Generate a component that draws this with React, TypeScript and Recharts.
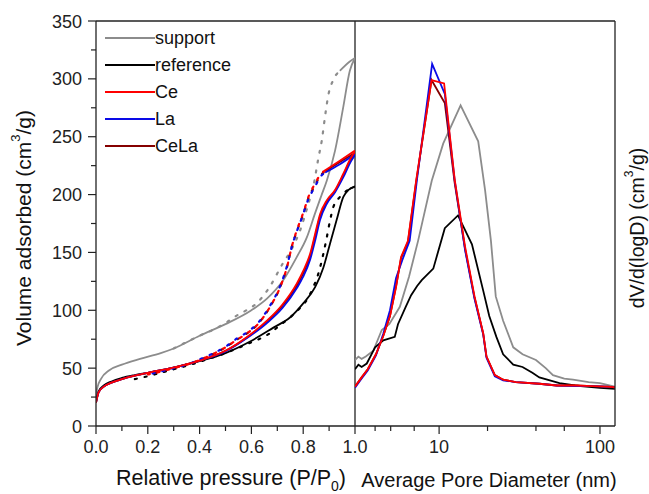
import { LineChart, Line, XAxis, YAxis, Legend, ReferenceLine } from 'recharts';

// N2 physisorption isotherms: [P/P0, volume adsorbed cm3/g]
const supportAds = [
  [0, 25], [0.005, 33], [0.02, 41], [0.05, 48], [0.1, 53], [0.17, 58], [0.25, 63], [0.3, 67],
  [0.4, 78], [0.5, 88], [0.6, 100], [0.66, 110], [0.72, 125], [0.775, 146], [0.814, 163],
  [0.846, 184], [0.87, 199], [0.891, 212], [0.923, 238], [0.955, 276], [0.98, 307], [1.0, 318],
];
const supportDes = [
  [0.3, 67], [0.4, 78], [0.45, 83], [0.5, 89], [0.54, 95], [0.58, 100], [0.62, 106], [0.67, 120],
  [0.72, 140], [0.756, 153], [0.788, 169], [0.82, 192], [0.839, 207], [0.859, 232], [0.872, 247],
  [0.884, 267], [0.897, 286], [0.916, 299], [0.942, 307], [0.98, 315], [1.0, 318],
];
const referenceAds = [
  [0, 21], [0.01, 30], [0.03, 35], [0.06, 38.5], [0.1, 41.5], [0.15, 44], [0.2, 46], [0.3, 50.5],
  [0.4, 56], [0.5, 63], [0.595, 73], [0.685, 85], [0.75, 94], [0.8, 106], [0.846, 120],
  [0.878, 137], [0.904, 158], [0.929, 178], [0.955, 198], [0.975, 204], [1.0, 207],
];
const referenceDes = [
  [0.15, 40.5], [0.2, 43], [0.25, 46], [0.3, 49], [0.35, 52], [0.42, 57], [0.5, 63], [0.58, 70.5],
  [0.67, 80], [0.71, 87], [0.75, 94], [0.788, 102], [0.814, 109], [0.839, 120], [0.859, 132],
  [0.878, 149], [0.891, 163], [0.904, 178], [0.916, 189], [0.942, 198], [0.98, 205], [1.0, 207],
];
const ceAds = [
  [0, 20], [0.01, 29], [0.03, 34], [0.06, 37.5], [0.1, 40.5], [0.15, 43.5], [0.2, 46], [0.29, 50],
  [0.4, 56.5], [0.5, 65], [0.583, 77], [0.66, 91], [0.72, 105], [0.775, 123], [0.8, 134],
  [0.827, 149], [0.846, 166], [0.865, 183], [0.891, 195], [0.923, 204], [0.955, 218], [0.985, 232],
  [1.0, 237],
];
const ceDes = [
  [0.2, 44.5], [0.25, 47], [0.3, 50], [0.35, 53], [0.4, 57], [0.45, 62], [0.5, 68], [0.54, 74],
  [0.583, 80], [0.627, 88.5], [0.672, 103], [0.711, 120], [0.737, 137], [0.756, 155], [0.775, 169],
  [0.795, 181], [0.807, 189], [0.82, 198], [0.846, 209.5], [0.865, 217], [0.885, 221], [0.94, 229],
  [1.0, 238],
];
const laAds = [
  [0, 20], [0.01, 29], [0.03, 34], [0.06, 37.5], [0.1, 40.5], [0.15, 43.5], [0.2, 46], [0.29, 50],
  [0.4, 56.5], [0.5, 64.5], [0.583, 76], [0.66, 89], [0.72, 102], [0.775, 119], [0.8, 129],
  [0.827, 144], [0.846, 160], [0.865, 178], [0.891, 192], [0.923, 202], [0.955, 215], [0.985, 229],
  [1.0, 234],
];
const laDes = [
  [0.2, 44.5], [0.25, 47], [0.3, 50], [0.35, 53], [0.4, 57.5], [0.45, 62.5], [0.5, 68.5], [0.54, 75],
  [0.583, 81], [0.627, 89.5], [0.672, 104], [0.711, 121], [0.737, 138], [0.756, 155], [0.775, 168],
  [0.795, 180], [0.807, 188], [0.82, 196], [0.846, 207], [0.865, 215], [0.885, 219], [0.94, 226],
  [1.0, 235],
];
const celaAds = [
  [0, 20], [0.01, 29], [0.03, 34], [0.06, 37.5], [0.1, 40.5], [0.15, 43.5], [0.2, 46], [0.29, 50],
  [0.4, 56.5], [0.5, 65], [0.583, 76.5], [0.66, 90], [0.72, 104], [0.775, 121], [0.8, 132],
  [0.827, 147], [0.846, 164], [0.865, 181], [0.891, 194], [0.923, 203], [0.955, 217], [0.985, 231],
  [1.0, 236],
];
const celaDes = [
  [0.2, 44.5], [0.25, 47], [0.3, 50], [0.35, 53], [0.4, 57], [0.45, 62], [0.5, 68], [0.54, 74],
  [0.583, 80], [0.627, 88.5], [0.672, 103], [0.711, 120], [0.737, 137], [0.756, 155], [0.775, 168],
  [0.795, 180], [0.807, 188], [0.82, 197], [0.846, 208], [0.865, 216], [0.885, 220], [0.94, 228],
  [1.0, 236],
];

// BJH pore size distributions: [pore diameter nm, dV/d(logD)]
const supportPsd = [
  [3.0, 57], [3.15, 60], [3.3, 58], [3.5, 60], [3.9, 65], [4.4, 83], [4.9, 88], [5.7, 103],
  [6.5, 129], [7.4, 160], [9.0, 212], [10.6, 244], [13.6, 277], [17.5, 246], [19.3, 204], [21, 160],
  [22.5, 112], [25, 91], [28.9, 68], [33, 62], [40, 57], [46, 50], [51, 44], [60, 41], [68, 40],
  [85, 38], [100, 37], [124, 34],
];
const referencePsd = [
  [3.0, 49], [3.15, 53], [3.3, 51], [3.55, 54], [4.0, 68], [4.5, 74], [5.3, 77], [5.55, 88],
  [6.2, 103], [6.7, 113], [7.3, 121], [7.8, 126], [9.2, 136], [10.85, 171], [13.1, 182], [16, 157],
  [18.8, 117], [20.5, 95], [22.7, 77], [25, 62], [28.9, 53], [33, 51], [38, 46], [42, 42], [56, 37],
  [70, 35], [100, 33], [124, 32],
];
const cePsd = [
  [3.0, 34], [3.3, 42], [3.6, 49], [4.05, 62], [4.5, 78], [4.95, 95], [5.4, 120], [5.8, 146],
  [6.4, 160], [7.2, 212], [8.97, 299], [10.74, 296], [12.5, 213], [14.5, 155], [16.6, 112],
  [18.8, 80], [19.7, 60], [22.2, 44], [25, 40], [30, 38], [42, 36.5], [54, 35], [70, 35], [90, 34.5],
  [110, 34], [124, 33.5],
];
const laPsd = [
  [3.0, 33], [3.3, 41], [3.6, 48], [4.05, 61], [4.5, 80], [4.95, 100], [5.4, 128], [6.0, 146],
  [6.56, 160], [7.3, 214], [9.05, 313], [10.85, 287], [12.5, 212], [14.5, 152], [16.6, 110],
  [18.8, 79], [19.7, 59], [22.2, 43], [25, 39.5], [30, 38], [42, 36.5], [54, 35], [70, 34.5],
  [90, 34.5], [110, 34], [124, 33.5],
];
const celaPsd = [
  [3.0, 34], [3.3, 42], [3.6, 49], [4.05, 62], [4.5, 78], [4.95, 95], [5.4, 121], [5.8, 145],
  [6.4, 159], [7.2, 211], [8.97, 299], [10.85, 279], [12.5, 210], [14.5, 153], [16.6, 111],
  [18.8, 80], [19.7, 60], [22.2, 44], [25, 40], [30, 38], [42, 36.5], [54, 35], [70, 35], [90, 34.5],
  [110, 34], [124, 33.5],
];

const PRESSURE_TICKS = [0, 0.1, 0.2, 0.3, 0.4, 0.5, 0.6, 0.7, 0.8, 0.9, 1.0];
const VOLUME_TICKS = [0, 25, 50, 75, 100, 125, 150, 175, 200, 225, 250, 275, 300, 325, 350];
const DIAMETER_TICKS = [4, 5, 6, 7, 8, 9, 10, 20, 30, 40, 50, 60, 70, 80, 90, 100];

const FONT = '"Liberation Sans", Arial, Helvetica, sans-serif';
const AXIS = '#222';
const H = 494;
const MARGIN = { top: 21, right: 0, bottom: 0, left: 0 };

const toPts = (rows: number[][]) => rows.map(([x, y]) => ({ x, y }));

// dashOffset staggers the dotted desorption branches so overlapping ones alternate
const SERIES = [
  { name: 'support', color: '#8c8c8c', ads: supportAds, des: supportDes, solidFrom: 0.942, dashOffset: 0, psd: supportPsd },
  { name: 'reference', color: '#000000', ads: referenceAds, des: referenceDes, solidFrom: 0.98, dashOffset: 0, psd: referencePsd },
  { name: 'Ce', color: '#ff0000', ads: ceAds, des: ceDes, solidFrom: 0.885, dashOffset: 0, psd: cePsd },
  { name: 'La', color: '#0a0ae6', ads: laAds, des: laDes, solidFrom: 0.885, dashOffset: 5, psd: laPsd },
  { name: 'CeLa', color: '#850000', ads: celaAds, des: celaDes, solidFrom: 0.885, dashOffset: 2.5, psd: celaPsd },
];
// red drawn last so it sits on top of the blue / dark red traces
const DRAW_ORDER = ['support', 'reference', 'CeLa', 'La', 'Ce'];
const drawn = DRAW_ORDER.map((n) => SERIES.find((s) => s.name === n)!);

const bottomTick = (isMajor: (v: number) => boolean, fmt: (v: number) => string) => (props: any) => {
  const { x, y, payload } = props;
  const major = isMajor(payload.value);
  return (
    <g>
      <line x1={x} x2={x} y1={y} y2={y + (major ? 8 : 5)} stroke={AXIS} strokeWidth={1.2} />
      {major && (
        <text x={x} y={y + 27} textAnchor="middle" fontSize={18} fill="#222" fontFamily={FONT}>
          {fmt(payload.value)}
        </text>
      )}
    </g>
  );
};

const leftTick = (props: any) => {
  const { x, y, payload } = props;
  const major = payload.value % 50 === 0;
  return (
    <g>
      <line x1={x - (major ? 8 : 5)} x2={x} y1={y} y2={y} stroke={AXIS} strokeWidth={1.2} />
      {major && (
        <text x={x - 14} y={y + 6.5} textAnchor="end" fontSize={18} fill="#222" fontFamily={FONT}>
          {payload.value}
        </text>
      )}
    </g>
  );
};

const pressureTick = bottomTick(
  (v) => Math.abs(v * 10 - Math.round(v * 10)) < 1e-6 && Math.round(v * 10) % 2 === 0,
  (v) => v.toFixed(1)
);
const diameterTick = bottomTick((v) => v === 10 || v === 100, (v) => String(v));

const IsothermLegend = () => (
  <div style={{ fontFamily: FONT, fontSize: 18, color: '#111' }}>
    {SERIES.map((s) => (
      <div key={s.name} style={{ display: 'flex', alignItems: 'center', height: 27 }}>
        <svg width={50} height={4} style={{ display: 'block' }}>
          <line x1={0} x2={50} y1={2} y2={2} stroke={s.color} strokeWidth={2} />
        </svg>
        <span style={{ lineHeight: '27px' }}>{s.name}</span>
      </div>
    ))}
  </div>
);

export default function App() {
  return (
    <div
      style={{
        position: 'absolute',
        left: 0,
        top: 0,
        width: 649,
        height: H,
        background: '#fff',
        fontFamily: FONT,
      }}
    >
      {/* isotherm panel */}
      <div style={{ position: 'absolute', left: 0, top: 0 }}>
        <LineChart width={380} height={H} margin={{ ...MARGIN, right: 25 }}>
          <XAxis
            dataKey="x"
            type="number"
            domain={[0, 1]}
            ticks={PRESSURE_TICKS}
            allowDataOverflow
            height={68}
            tickSize={0}
            tickMargin={0}
            tickLine={false}
            tick={pressureTick}
            axisLine={{ stroke: AXIS, strokeWidth: 1.3 }}
            label={{
              content: () => (
                <text x={231} y={485} textAnchor="middle" fontSize={21.5} fill="#111" fontFamily={FONT}>
                  Relative pressure (P/P
                  <tspan fontSize={14} dy={6}>0</tspan>
                  <tspan dy={-6}>)</tspan>
                </text>
              ),
            }}
          />
          <YAxis
            type="number"
            domain={[0, 350]}
            ticks={VOLUME_TICKS}
            allowDataOverflow
            width={96}
            tickSize={0}
            tickMargin={0}
            tickLine={false}
            tick={leftTick}
            axisLine={{ stroke: AXIS, strokeWidth: 1.3 }}
            label={{
              content: () => (
                <text
                  x={23}
                  y={228}
                  transform="rotate(-90, 23, 228)"
                  textAnchor="middle"
                  dominantBaseline="central"
                  fontSize={21}
                  fill="#111"
                  fontFamily={FONT}
                >
                  Volume adsorbed (cm
                  <tspan fontSize={13} dy={-8}>3</tspan>
                  <tspan dy={8}>/g)</tspan>
                </text>
              ),
            }}
          />
          <ReferenceLine y={350} stroke={AXIS} strokeWidth={1.3} />
          <ReferenceLine x={1} stroke={AXIS} strokeWidth={1.3} />
          {drawn.flatMap((s) => [
            <Line
              key={`${s.name}-ads`}
              name={s.name}
              data={toPts(s.ads)}
              dataKey="y"
              type="monotone"
              stroke={s.color}
              strokeWidth={1.8}
              dot={false}
              isAnimationActive={false}
            />,
            <Line
              key={`${s.name}-des`}
              name={`${s.name} des`}
              data={toPts(s.des.filter(([p]) => p <= s.solidFrom))}
              dataKey="y"
              type="monotone"
              stroke={s.color}
              strokeWidth={2.2}
              strokeDasharray="2 8"
              strokeDashoffset={s.dashOffset}
              strokeLinecap="round"
              dot={false}
              isAnimationActive={false}
            />,
            <Line
              key={`${s.name}-des-top`}
              name={`${s.name} des top`}
              data={toPts(s.des.filter(([p]) => p >= s.solidFrom))}
              dataKey="y"
              type="monotone"
              stroke={s.color}
              strokeWidth={1.8}
              dot={false}
              isAnimationActive={false}
            />,
          ])}
          <Legend
            layout="vertical"
            align="center"
            verticalAlign="middle"
            content={() => <IsothermLegend />}
            wrapperStyle={{ left: 105, top: 24.5, width: 160, height: 140 }}
          />
        </LineChart>
      </div>

      {/* pore size distribution panel */}
      <div style={{ position: 'absolute', left: 355, top: 0 }}>
        <LineChart width={294} height={H} margin={MARGIN}>
          <XAxis
            dataKey="x"
            type="number"
            scale="log"
            domain={[3, 124]}
            ticks={DIAMETER_TICKS}
            allowDataOverflow
            height={68}
            tickSize={0}
            tickMargin={0}
            tickLine={false}
            tick={diameterTick}
            axisLine={{ stroke: AXIS, strokeWidth: 1.3 }}
            label={{
              content: () => (
                <text x={134} y={487} textAnchor="middle" fontSize={20} fill="#111" fontFamily={FONT}>
                  Average Pore Diameter (nm)
                </text>
              ),
            }}
          />
          <YAxis
            orientation="right"
            type="number"
            domain={[0, 350]}
            allowDataOverflow
            width={34}
            tick={false}
            tickLine={false}
            axisLine={{ stroke: AXIS, strokeWidth: 1.3 }}
            label={{
              content: () => (
                <text
                  x={282}
                  y={228}
                  transform="rotate(-90, 282, 228)"
                  textAnchor="middle"
                  dominantBaseline="central"
                  fontSize={19.5}
                  fill="#111"
                  fontFamily={FONT}
                >
                  dV/d(logD) (cm
                  <tspan fontSize={12} dy={-8}>3</tspan>
                  <tspan dy={8}>/g)</tspan>
                </text>
              ),
            }}
          />
          <ReferenceLine y={350} stroke={AXIS} strokeWidth={1.3} />
          {drawn.map((s) => (
            <Line
              key={`${s.name}-psd`}
              name={s.name}
              data={toPts(s.psd)}
              dataKey="y"
              type="linear"
              stroke={s.color}
              strokeWidth={1.8}
              dot={false}
              isAnimationActive={false}
            />
          ))}
        </LineChart>
      </div>
    </div>
  );
}
